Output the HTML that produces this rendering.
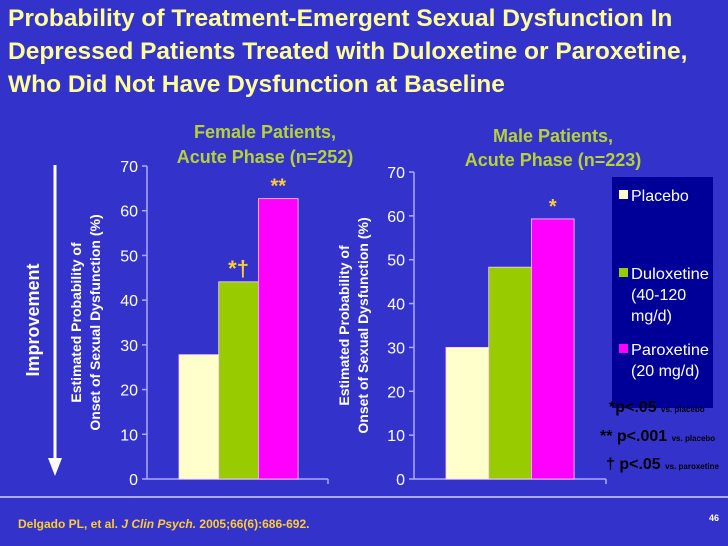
<!DOCTYPE html>
<html><head><meta charset="utf-8"><style>
body{margin:0;width:728px;height:546px;background:#3333cc;overflow:hidden;font-family:"Liberation Sans",sans-serif;position:relative}
.t{position:absolute;white-space:nowrap}
</style></head><body>
<div class="t" style="left:8px;top:2px;color:#ffff99;font-weight:bold;font-size:24.5px;line-height:33px">Probability of Treatment-Emergent Sexual Dysfunction In<br>Depressed Patients Treated with Duloxetine or Paroxetine,<br>Who Did Not Have Dysfunction at Baseline</div>
<svg width="728" height="546" style="position:absolute;left:0;top:0" id="svg">
<text x="265" y="138" fill="#b5d334" font-size="18" font-weight="bold" text-anchor="middle" font-family="Liberation Sans">Female Patients,</text>
<text x="265" y="163" fill="#b5d334" font-size="18" font-weight="bold" text-anchor="middle" font-family="Liberation Sans">Acute Phase (n=252)</text>
<text x="553" y="142" fill="#b5d334" font-size="18" font-weight="bold" text-anchor="middle" font-family="Liberation Sans">Male Patients,</text>
<text x="553" y="166" fill="#b5d334" font-size="18" font-weight="bold" text-anchor="middle" font-family="Liberation Sans">Acute Phase (n=223)</text>
<line x1="55" y1="165" x2="55" y2="460" stroke="#fff" stroke-width="3"/>
<polygon points="48,458 62,458 55,476" fill="#fff"/>
<text transform="translate(39,320) rotate(-90)" fill="#fff" font-size="18" font-weight="bold" text-anchor="middle" font-family="Liberation Sans">Improvement</text>
<rect x="612" y="177" width="101" height="231" fill="#000099"/>
<rect x="619" y="190" width="9" height="9" fill="#ffffcc"/><text x="631" y="201" fill="#fff" font-size="16" font-family="Liberation Sans">Placebo</text>
<rect x="619" y="268" width="9" height="9" fill="#99cc00"/><text x="631" y="279" fill="#fff" font-size="16" font-family="Liberation Sans" textLength="78" lengthAdjust="spacingAndGlyphs">Duloxetine</text>
<text x="631" y="300" fill="#fff" font-size="16" font-family="Liberation Sans">(40-120</text>
<text x="631" y="321" fill="#fff" font-size="16" font-family="Liberation Sans">mg/d)</text>
<rect x="619" y="344" width="9" height="9" fill="#ff00ff"/><text x="631" y="355" fill="#fff" font-size="16" font-family="Liberation Sans" textLength="78" lengthAdjust="spacingAndGlyphs">Paroxetine</text>
<text x="631" y="376" fill="#fff" font-size="16" font-family="Liberation Sans">(20 mg/d)</text>
<text x="609" y="412" fill="#000" font-size="16" font-weight="bold" font-family="Liberation Sans">*p&lt;.05 <tspan font-size="8">vs. placebo</tspan></text>
<text x="600" y="441" fill="#000" font-size="16" font-weight="bold" font-family="Liberation Sans">** p&lt;.001 <tspan font-size="8">vs. placebo</tspan></text>
<text x="606" y="469" fill="#000" font-size="16" font-weight="bold" font-family="Liberation Sans">† p&lt;.05 <tspan font-size="8">vs. paroxetine</tspan></text>
<line x1="0" y1="497" x2="728" y2="497" stroke="#aaaaee" stroke-width="2"/>
<text x="18" y="528" fill="#ffcc33" font-size="12" font-weight="bold" font-family="Liberation Sans">Delgado PL, et al. <tspan font-style="italic">J Clin Psych.</tspan> 2005;66(6):686-692.</text>
<text x="709" y="521" fill="#fff" font-size="9" font-weight="bold" font-family="Liberation Sans">46</text>
</svg>
<script>
const ticks=[0,10,20,30,40,50,60,70];
const femaleValues=[27.8,44.1,62.7];
const maleValues=[30,48.3,59.3];
const groups=['placebo','duloxetine','paroxetine'];
const femaleNotes=['','*†','**'];
const maleNotes=['','','*'];
const colors=['#ffffcc','#99cc00','#ff00ff'];
const svg=document.getElementById('svg');const NS='http://www.w3.org/2000/svg';
function mk(t,a,txt){const e=document.createElementNS(NS,t);for(const k in a)e.setAttribute(k,a[k]);if(txt!==undefined)e.textContent=txt;svg.appendChild(e);return e;}
function chart(name,ax,y0,y70,xEnd,bx,bw,vals,notes,tx){
 const y=v=>y0-(y0-y70)*v/70;
 let e=mk('line',{x1:ax,y1:y0,x2:ax,y2:y70,stroke:'#aaaaff','stroke-width':1.5});
 
 e=mk('line',{x1:ax,y1:y0,x2:xEnd,y2:y0,stroke:'#aaaaff','stroke-width':1.5});
 
 mk('line',{x1:xEnd,y1:y0,x2:xEnd,y2:y0+5,stroke:'#aaaaff','stroke-width':1.5});
 ticks.forEach(t=>{mk('line',{x1:ax-5,y1:y(t),x2:ax,y2:y(t),stroke:'#aaaaff','stroke-width':1.5});
  e=mk('text',{x:ax-9,y:y(t)+6,fill:'#fff','font-size':16,'text-anchor':'end','font-family':'Liberation Sans'},t);
  });
 vals.forEach((v,i)=>{e=mk('rect',{x:bx+i*bw,y:y(v),width:bw,height:y0-y(v),fill:colors[i],stroke:'#ffccff','stroke-width':0.8});
  
  if(notes[i]){e=mk('text',{x:bx+i*bw+bw/2,y:y(v)-6,fill:'#ffcc33','font-size':notes[i]=='*†'?22:20,'font-weight':'bold','text-anchor':'middle','font-family':'Liberation Sans'},notes[i]);
  }});
 e=mk('text',{transform:`translate(${tx-16},${(y0+y70)/2}) rotate(-90)`,fill:'#fff','font-size':14,'font-weight':'bold','text-anchor':'middle','font-family':'Liberation Sans'},'Estimated Probability of');
 
 mk('text',{transform:`translate(${tx+3},${(y0+y70)/2}) rotate(-90)`,fill:'#fff','font-size':14,'font-weight':'bold','text-anchor':'middle','font-family':'Liberation Sans'},'Onset of Sexual Dysfunction (%)');
}
chart('female',147,479,166,328,179,39.7,femaleValues,femaleNotes,97);
chart('male',414,479,172,606,446,42.7,maleValues,maleNotes,365);
</script>
</body></html>
